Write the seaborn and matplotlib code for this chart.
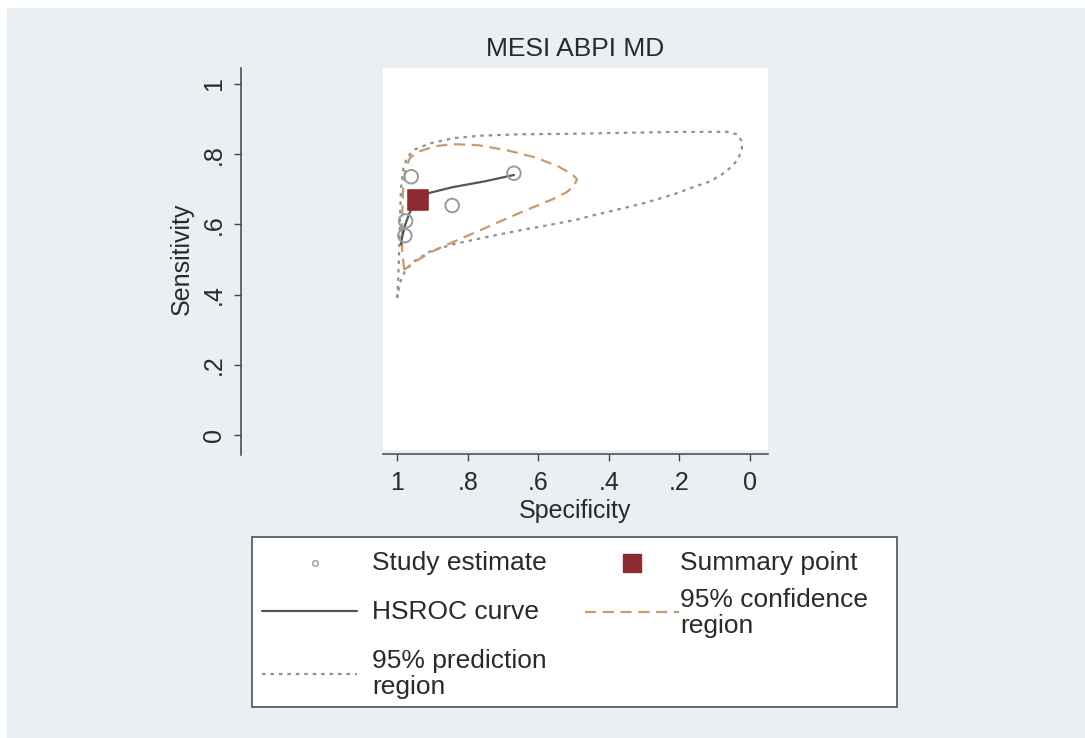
import matplotlib
matplotlib.use("Agg")
import matplotlib.pyplot as plt
from matplotlib.lines import Line2D
from matplotlib.patches import Rectangle
import pandas as pd
import seaborn as sns

# ---------------- data ----------------
title = "MESI ABPI MD"
x_label = "Specificity"
y_label = "Sensitivity"
tick_values = [0, 0.2, 0.4, 0.6, 0.8, 1.0]
tick_labels = ["0", ".2", ".4", ".6", ".8", "1"]

study_spec = [0.669, 0.960, 0.844, 0.976, 0.978]
study_sens = [0.746, 0.736, 0.654, 0.610, 0.568]

summary_spec = [0.940]
summary_sens = [0.669]

hsroc_spec = [0.669, 0.751, 0.844, 0.912, 0.940, 0.963, 0.977, 0.986, 0.989]
hsroc_sens = [0.741, 0.723, 0.706, 0.689, 0.669, 0.637, 0.600, 0.563, 0.543]

conf_spec = [0.980, 0.986, 0.986, 0.983, 0.977, 0.963, 0.935, 0.892, 0.844,
             0.771, 0.686, 0.609, 0.544, 0.504, 0.490, 0.499, 0.521, 0.561,
             0.629, 0.703, 0.779, 0.844, 0.901, 0.949, 0.972, 0.980]
conf_sens = [0.471, 0.529, 0.614, 0.700, 0.757, 0.791, 0.809, 0.823, 0.829,
             0.826, 0.811, 0.791, 0.766, 0.743, 0.729, 0.709, 0.691, 0.671,
             0.643, 0.611, 0.577, 0.549, 0.523, 0.494, 0.477, 0.471]

pred_spec = [1.000, 0.997, 0.994, 0.992, 0.989, 0.983, 0.972, 0.949, 0.907,
             0.841, 0.765, 0.652, 0.538, 0.425, 0.312, 0.198, 0.113, 0.065,
             0.037, 0.023, 0.023, 0.034, 0.054, 0.079, 0.113, 0.161, 0.207,
             0.255, 0.303, 0.348, 0.397, 0.445, 0.490, 0.561, 0.637, 0.714,
             0.779, 0.844, 0.907, 0.949, 0.977, 0.992, 1.000]
pred_sens = [0.391, 0.443, 0.529, 0.614, 0.700, 0.757, 0.791, 0.814, 0.831,
             0.846, 0.853, 0.857, 0.858, 0.860, 0.862, 0.864, 0.864, 0.864,
             0.857, 0.837, 0.814, 0.786, 0.763, 0.743, 0.723, 0.706, 0.689,
             0.674, 0.660, 0.649, 0.637, 0.626, 0.614, 0.600, 0.586, 0.571,
             0.557, 0.543, 0.523, 0.497, 0.469, 0.434, 0.391]

legend_labels = ["Study estimate", "Summary point", "HSROC curve",
                 "95% confidence\nregion", "95% prediction\nregion"]

# ---------------- style ----------------
BG = "#e9eff2"
AX_COL = "#3f4446"
TXT = "#2a2a2a"
C_STUDY = "#959ca0"
C_SUMMARY = "#8e2b30"
C_HSROC = "#4f5a50"
C_CONF = "#c89a6c"
C_PRED = "#8c9397"
FONT = ["Liberation Sans", "DejaVu Sans"]

sns.set_theme(style="white")
plt.rcParams["font.family"] = FONT

W, H = 1085, 738
fig = plt.figure(figsize=(W / 100, H / 100), dpi=100)
fig.patch.set_facecolor(BG)
# thin white frame at top-left as in the reference
fig.add_artist(Rectangle((0, 1 - 8 / H), 1, 8 / H, transform=fig.transFigure,
                         facecolor="white", edgecolor="none", zorder=-1))
fig.add_artist(Rectangle((0, 0), 7 / W, 1, transform=fig.transFigure,
                         facecolor="white", edgecolor="none", zorder=-1))

ax = fig.add_axes([383 / W, 1 - 450 / H, 385 / W, 382 / H])
ax.set_facecolor("white")

pred_df = pd.DataFrame({"spec": pred_spec, "sens": pred_sens})
conf_df = pd.DataFrame({"spec": conf_spec, "sens": conf_sens})
hsroc_df = pd.DataFrame({"spec": hsroc_spec, "sens": hsroc_sens})
study_df = pd.DataFrame({"spec": study_spec, "sens": study_sens})
summ_df = pd.DataFrame({"spec": summary_spec, "sens": summary_sens})

sns.lineplot(data=pred_df, x="spec", y="sens", sort=False, estimator=None,
             color=C_PRED, lw=1.6, ax=ax, linestyle=(0, (1.6, 2.2)))
sns.lineplot(data=conf_df, x="spec", y="sens", sort=False, estimator=None,
             color=C_CONF, lw=1.6, ax=ax, linestyle=(0, (5, 3)))
sns.lineplot(data=hsroc_df, x="spec", y="sens", sort=False, estimator=None,
             color=C_HSROC, lw=1.6, ax=ax)
sns.scatterplot(data=study_df, x="spec", y="sens", ax=ax, s=95,
                facecolor="none", edgecolor=C_STUDY, linewidth=1.4, zorder=5)
sns.scatterplot(data=summ_df, x="spec", y="sens", ax=ax, marker="s", s=210,
                color=C_SUMMARY, edgecolor=C_SUMMARY, zorder=6)

ax.set_xlim(1.040, -0.051)
ax.set_ylim(-0.043, 1.046)
ax.set_xticks(tick_values)
ax.set_xticklabels(tick_labels)
ax.set_yticks(tick_values)
ax.set_yticklabels(tick_labels)

for s in ["top", "right"]:
    ax.spines[s].set_visible(False)
ax.spines["left"].set_position(("outward", 102))
ax.spines["left"].set_bounds(-0.057, 1.046)
ax.spines["bottom"].set_position(("outward", 3))
for s in ["left", "bottom"]:
    ax.spines[s].set_color(AX_COL)
    ax.spines[s].set_linewidth(1.1)

ax.tick_params(axis="both", direction="out", length=5, width=1.0,
               color=AX_COL, labelsize=18, labelcolor=TXT)
ax.tick_params(axis="x", pad=7, bottom=True)
ax.tick_params(axis="y", pad=6, left=True, labelrotation=90)
for lab in ax.get_yticklabels():
    lab.set_verticalalignment("center")
    lab.set_horizontalalignment("right")

ax.set_xlabel(x_label, fontsize=18, color=TXT, labelpad=3)
ax.set_ylabel(y_label, fontsize=18, color=TXT, labelpad=6)
ax.set_title(title, fontsize=19, color=TXT, pad=9)

# ---------------- legend (Stata-style, 2 columns) ----------------
def fx(x):
    return x / W

def fy(y):
    return 1 - y / H

fig.add_artist(Rectangle((fx(252), fy(707)), 645 / W, 170 / H,
                         transform=fig.transFigure, facecolor="white",
                         edgecolor=AX_COL, linewidth=1.1))
LFS = 19
fig.add_artist(Line2D([fx(315)], [fy(563)], transform=fig.transFigure,
                      marker="o", markersize=4, markerfacecolor="none",
                      markeredgecolor=C_STUDY, linestyle="none"))
fig.add_artist(Line2D([fx(632)], [fy(563)], transform=fig.transFigure,
                      marker="s", markersize=13, color=C_SUMMARY,
                      linestyle="none"))
fig.add_artist(Line2D([fx(262), fx(357)], [fy(611), fy(611)],
                      transform=fig.transFigure, color=C_HSROC, lw=1.6))
fig.add_artist(Line2D([fx(585), fx(679)], [fy(612), fy(612)],
                      transform=fig.transFigure, color=C_CONF, lw=1.6,
                      linestyle=(0, (5, 3))))
fig.add_artist(Line2D([fx(262), fx(357)], [fy(674), fy(674)],
                      transform=fig.transFigure, color=C_PRED, lw=1.6,
                      linestyle=(0, (1.6, 2.2))))

legend_pos = [(372, 563), (680, 563), (372, 612), (680, 613), (372, 674)]
for lab, (lx, ly) in zip(legend_labels, legend_pos):
    fig.text(fx(lx), fy(ly), lab, fontsize=LFS, color=TXT,
             ha="left", va="center", linespacing=1.12)

fig.savefig("out.png", dpi=100, facecolor=fig.get_facecolor())
